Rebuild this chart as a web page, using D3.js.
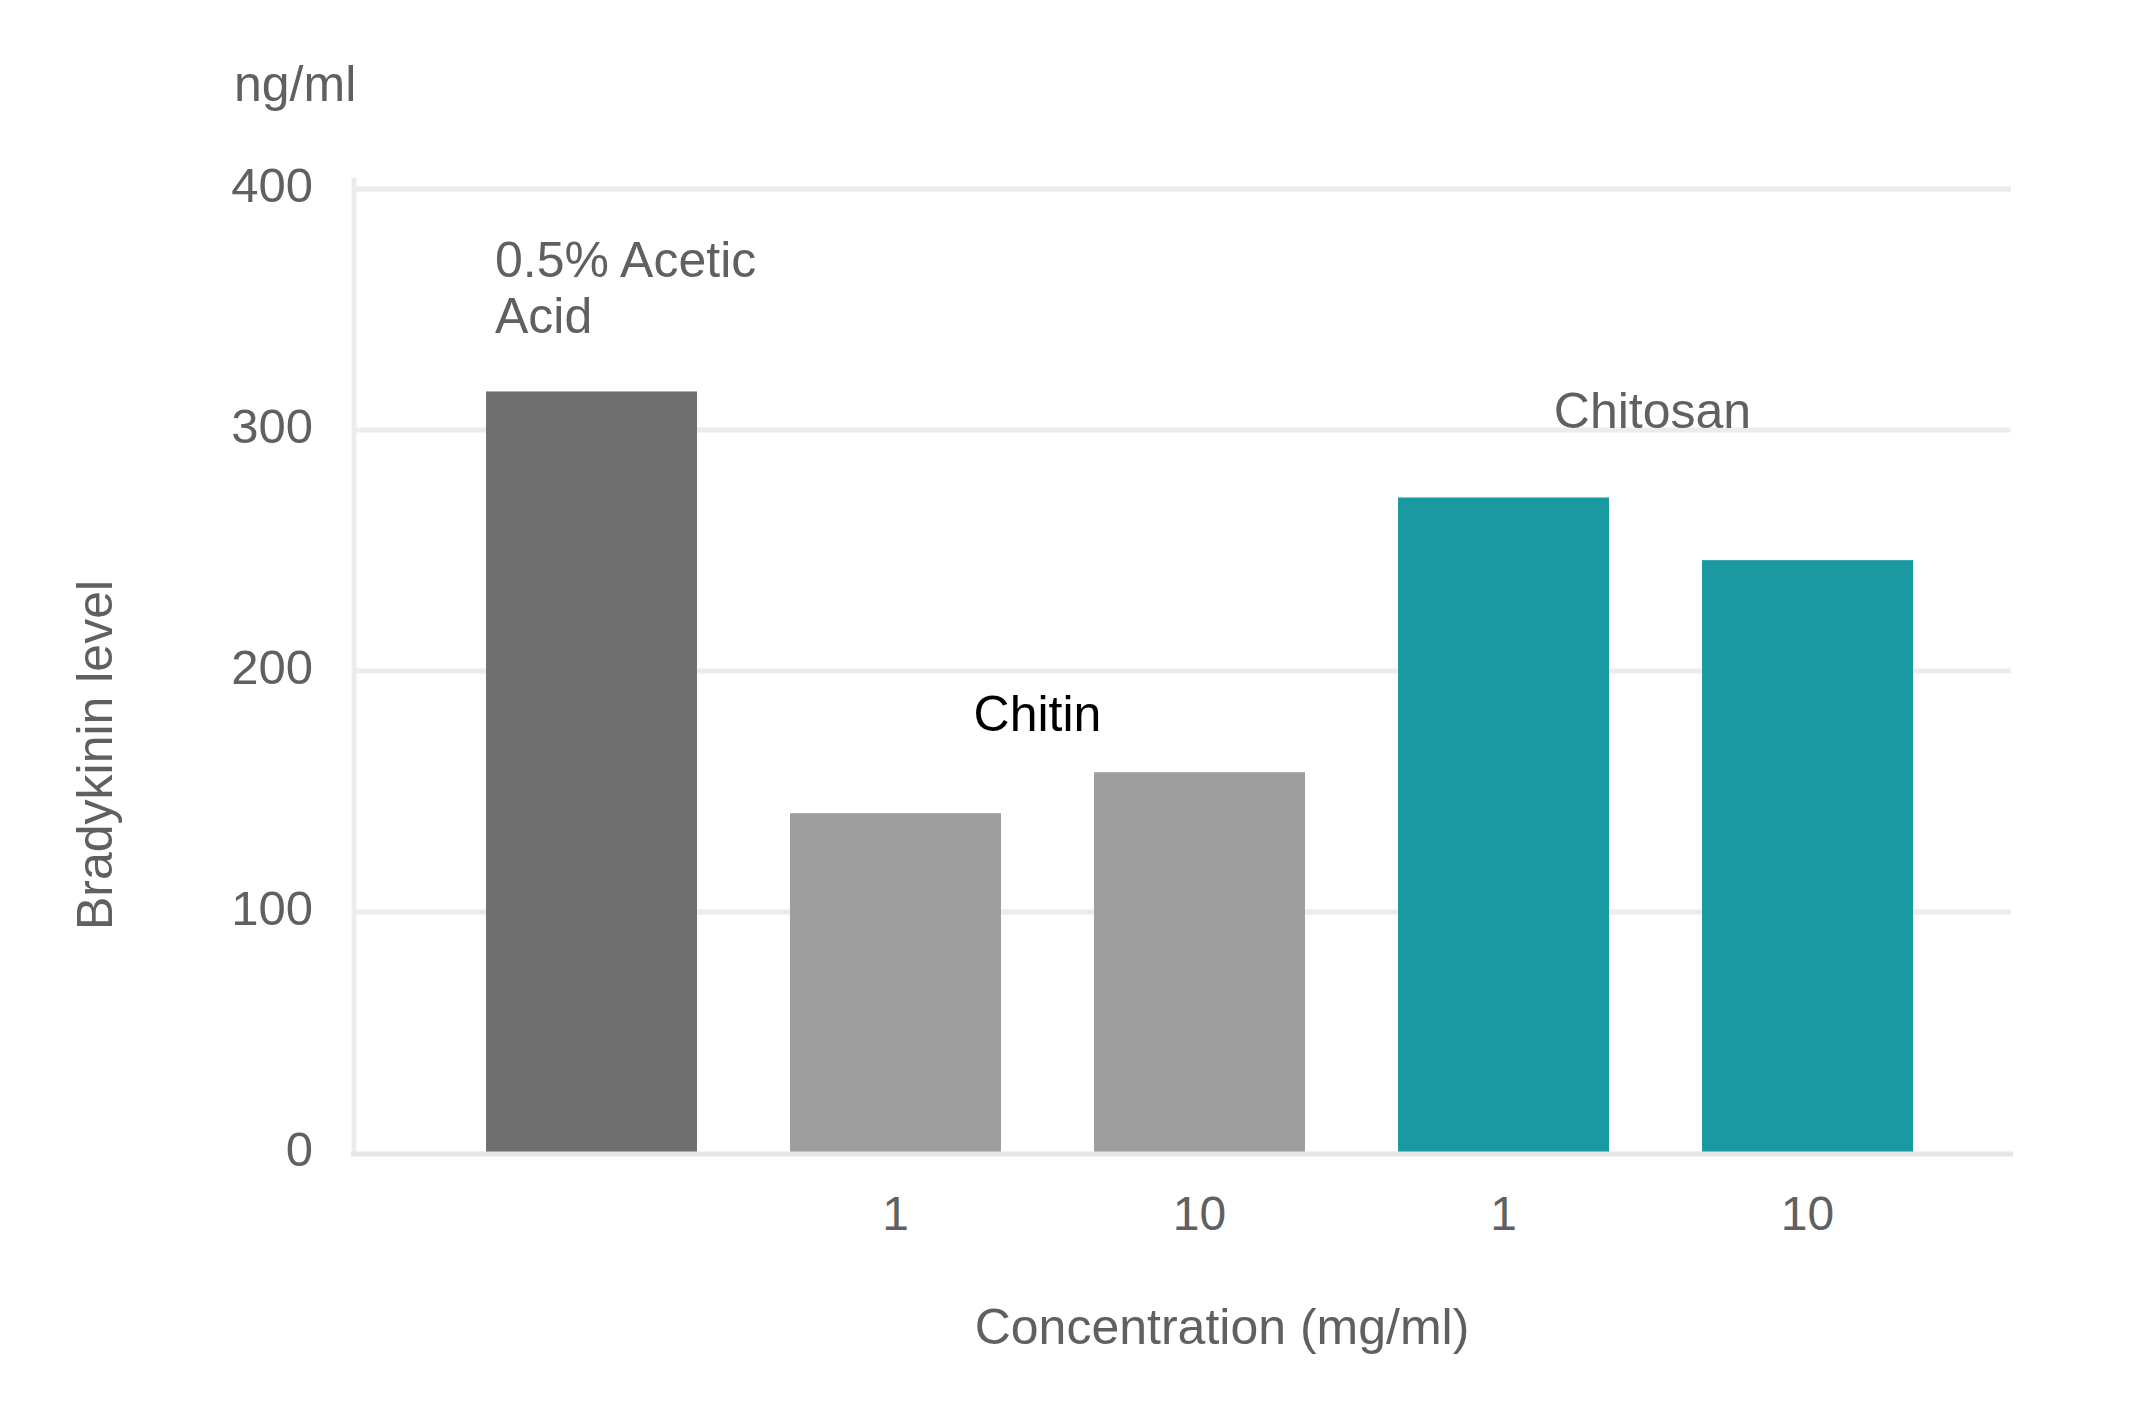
<!DOCTYPE html>
<html>
<head>
<meta charset="utf-8">
<script src="https://cdn.jsdelivr.net/npm/d3@7/dist/d3.min.js"></script>
<style>
  html, body { margin: 0; padding: 0; background: #ffffff; }
  svg { display: block; }
  text { font-family: "Liberation Sans", Arial, Helvetica, sans-serif; }
</style>
</head>
<body>
<svg id="chart" width="2151" height="1421"></svg>
<script>
// ---- data ----
const categories = ["Acetic", "Chitin 1", "Chitin 10", "Chitosan 1", "Chitosan 10"];
const tickLabels = ["", "1", "10", "1", "10"];
const values = [316, 141, 158, 272, 246];
const groups = ["acetic", "chitin", "chitin", "chitosan", "chitosan"];
const yTicks = [0, 100, 200, 300, 400];
const groupLabels = [
  { group: "acetic", lines: ["0.5% Acetic", "Acid"] },
  { group: "chitin", lines: ["Chitin"] },
  { group: "chitosan", lines: ["Chitosan"] }
];

// ---- styles ----
const colors = { acetic: "#707070", chitin: "#9e9e9e", chitosan: "#1a9aa0" };
const textGrey = "#606060";
const gridGrey = "#ececec";

const svg = d3.select("#chart");

const y = d3.scaleLinear().domain([0, 400]).range([1153, 189]);
const x = d3.scaleBand().domain(categories)
  .range([439.5, 1959.5]).paddingInner(0.306).paddingOuter(0.153);

// gridlines
svg.append("g").selectAll("line")
  .data(yTicks.filter(d => d > 0))
  .join("line")
  .attr("x1", 356).attr("x2", 2011)
  .attr("y1", d => y(d)).attr("y2", d => y(d))
  .attr("stroke", gridGrey).attr("stroke-width", 5);

// y axis line
svg.append("line")
  .attr("x1", 354).attr("x2", 354)
  .attr("y1", 178).attr("y2", y(0) + 2)
  .attr("stroke", gridGrey).attr("stroke-width", 5);

// y tick labels
svg.append("g").selectAll("text")
  .data(yTicks)
  .join("text")
  .attr("x", 313).attr("y", d => y(d) + 13)
  .attr("text-anchor", "end")
  .attr("font-size", 49)
  .attr("fill", textGrey)
  .text(d => d);

// bars
svg.append("g").selectAll("rect")
  .data(values)
  .join("rect")
  .attr("x", (d, i) => x(categories[i]))
  .attr("width", x.bandwidth())
  .attr("y", d => y(d))
  .attr("height", d => y(0) - y(d))
  .attr("fill", (d, i) => colors[groups[i]]);

// baseline
svg.append("line")
  .attr("x1", 351).attr("x2", 2013)
  .attr("y1", y(0) + 1).attr("y2", y(0) + 1)
  .attr("stroke", "#e6e6e6").attr("stroke-width", 5);

// x tick labels
svg.append("g").selectAll("text")
  .data(tickLabels)
  .join("text")
  .attr("x", (d, i) => x(categories[i]) + x.bandwidth() / 2)
  .attr("y", 1230)
  .attr("text-anchor", "middle")
  .attr("font-size", 48)
  .attr("fill", textGrey)
  .text(d => d);

// group labels
function groupCenter(g) {
  const idx = groups.map((gg, i) => gg === g ? i : -1).filter(i => i >= 0);
  const xs = idx.map(i => x(categories[i]) + x.bandwidth() / 2);
  return d3.mean(xs);
}
const labelG = svg.append("g");
// acetic (left aligned near bar start)
const ac = groupLabels[0];
const acText = labelG.append("text")
  .attr("x", x(categories[0]) + 9)
  .attr("y", 277)
  .attr("font-size", 50)
  .attr("fill", textGrey);
ac.lines.forEach((l, i) => {
  acText.append("tspan").attr("x", x(categories[0]) + 9).attr("dy", i === 0 ? 0 : 56).text(l);
});
// chitin
labelG.append("text")
  .attr("x", groupCenter("chitin") - 10)
  .attr("y", 731)
  .attr("text-anchor", "middle")
  .attr("font-size", 50)
  .attr("fill", "#000000")
  .text(groupLabels[1].lines[0]);
// chitosan
labelG.append("text")
  .attr("x", groupCenter("chitosan") - 3)
  .attr("y", 428)
  .attr("text-anchor", "middle")
  .attr("font-size", 50)
  .attr("fill", textGrey)
  .text(groupLabels[2].lines[0]);

// unit label
svg.append("text")
  .attr("x", 234).attr("y", 101)
  .attr("font-size", 50)
  .attr("fill", textGrey)
  .text("ng/ml");

// y axis title
svg.append("text")
  .attr("transform", "translate(112,755) rotate(-90)")
  .attr("text-anchor", "middle")
  .attr("font-size", 50)
  .attr("fill", textGrey)
  .text("Bradykinin level");

// x axis title
svg.append("text")
  .attr("x", 1222).attr("y", 1344)
  .attr("text-anchor", "middle")
  .attr("font-size", 50)
  .attr("fill", textGrey)
  .text("Concentration (mg/ml)");
</script>
</body>
</html>
